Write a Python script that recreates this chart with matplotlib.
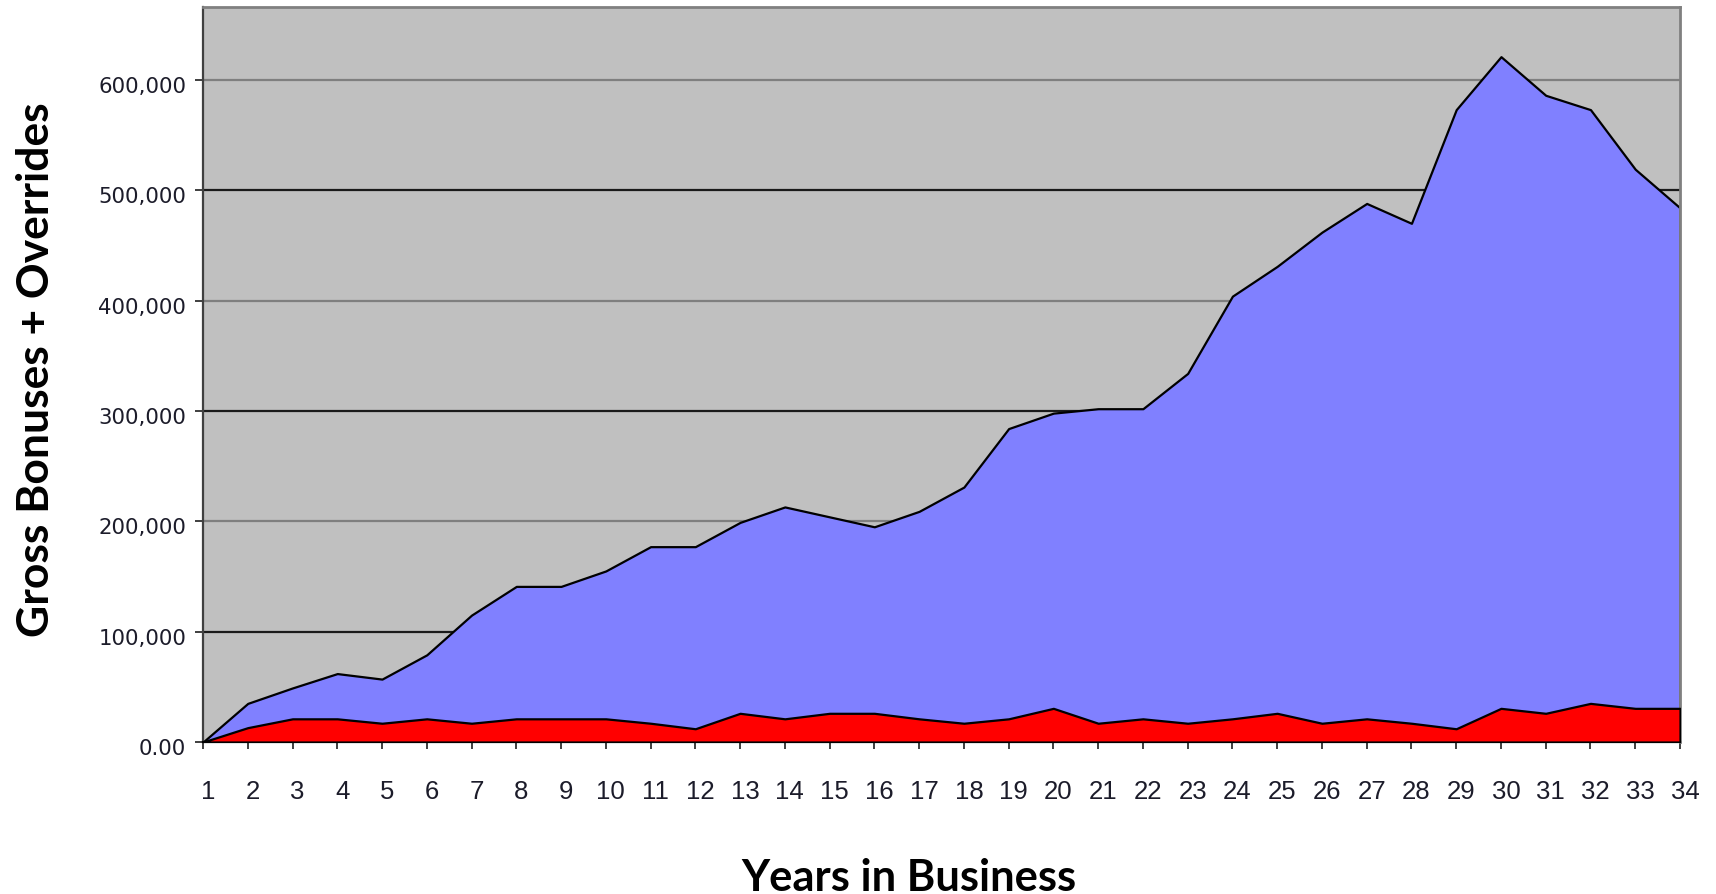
import matplotlib
matplotlib.use('Agg')
import matplotlib.pyplot as plt
import matplotlib.transforms as mtransforms

# ---- data ----
years = list(range(1, 35))
total_income = [0, 35000, 49000, 62000, 57000, 79000, 115000, 141000, 141000, 155000,
                177000, 177000, 199000, 213000, 204000, 195000, 209000, 231000, 284000, 298000,
                302000, 302000, 334000, 404000, 431000, 462000, 488000, 470000, 573000, 621000,
                586000, 573000, 519000, 484000]
personal_income = [0, 13000, 21000, 21000, 17000, 21000, 17000, 21000, 21000, 21000,
                   17000, 12000, 26000, 21000, 26000, 26000, 21000, 17000, 21000, 30500,
                   17000, 21000, 17000, 21000, 26000, 17000, 21000, 17000, 12000, 30500,
                   26000, 35000, 30500, 30500]
ytick_values = [0, 100000, 200000, 300000, 400000, 500000, 600000]
ytick_labels = ['0.00', '100,000', '200,000', '300,000', '400,000', '500,000', '600,000']
xlabel_text = 'Years in Business'
ylabel_text = 'Gross Bonuses + Overrides'

W, H = 1716, 895
fig = plt.figure(figsize=(W / 100, H / 100), dpi=100)
ax_left, ax_right, ax_top, ax_bottom = 203, 1680, 8, 743
ax = fig.add_axes([ax_left / W, 1 - ax_bottom / H, (ax_right - ax_left) / W, (ax_bottom - ax_top) / H])
ax.set_facecolor('#C0C0C0')
ax.set_xlim(1, 34)
ax.set_ylim(0, 666000)

# gridlines (alternating dark / grey as in the scan)
grid_colors = {100000: '#1a1a1a', 200000: '#7f7f7f', 300000: '#1a1a1a',
               400000: '#7f7f7f', 500000: '#1a1a1a', 600000: '#7f7f7f'}
for v in ytick_values[1:]:
    ax.axhline(v, color=grid_colors[v], lw=1.6, zorder=1)

ax.fill_between(years, 0, total_income, facecolor='#8080FF', edgecolor='black', lw=1.6, zorder=2)
ax.fill_between(years, 0, personal_income, facecolor='#FF0000', edgecolor='black', lw=1.6, zorder=3)

# spines
for s in ['top', 'right']:
    ax.spines[s].set_color('#808080')
    ax.spines[s].set_linewidth(2)
ax.spines['left'].set_color('#404040')
ax.spines['left'].set_linewidth(1.6)
ax.spines['bottom'].set_color('black')
ax.spines['bottom'].set_linewidth(1.6)

ax.set_xticks(years)
ax.set_xticklabels([str(y) for y in years], fontfamily='Liberation Sans', fontsize=18.5, color='#1c1c2a')
ax.set_yticks(ytick_values)
ax.set_yticklabels(ytick_labels, fontfamily='DejaVu Sans', fontsize=15.3, color='#1c1c2a')
ax.tick_params(axis='x', direction='out', length=5, width=1.3, color='#303030', pad=21.5)
ax.tick_params(axis='y', direction='out', length=6, width=1.3, color='#303030', pad=6)

# small offsets like the reference
offx = mtransforms.ScaledTranslation(5 / 100, 0, fig.dpi_scale_trans)
for lab in ax.get_xticklabels():
    lab.set_transform(lab.get_transform() + offx)
offy = mtransforms.ScaledTranslation(0, -4 / 100, fig.dpi_scale_trans)
for lab in ax.get_yticklabels():
    lab.set_transform(lab.get_transform() + offy)

# axis titles placed in figure pixels, fitted to measured widths
xl = fig.text(909 / W, 1 - 878 / H, xlabel_text, fontfamily='Lato', fontweight='bold',
              fontsize=28, ha='center', va='center', color='black')
yl = fig.text(36 / W, 1 - 370 / H, ylabel_text, fontfamily='Lato', fontweight='bold',
              fontsize=28, ha='center', va='center', rotation=90, color='black')

fig.canvas.draw()
r = fig.canvas.get_renderer()
bx = xl.get_window_extent(r)
xl.set_fontsize(28 * 335 / bx.width)
by = yl.get_window_extent(r)
yl.set_fontsize(28 * 535 / by.height)

fig.savefig('out.png', dpi=100, facecolor='white')
